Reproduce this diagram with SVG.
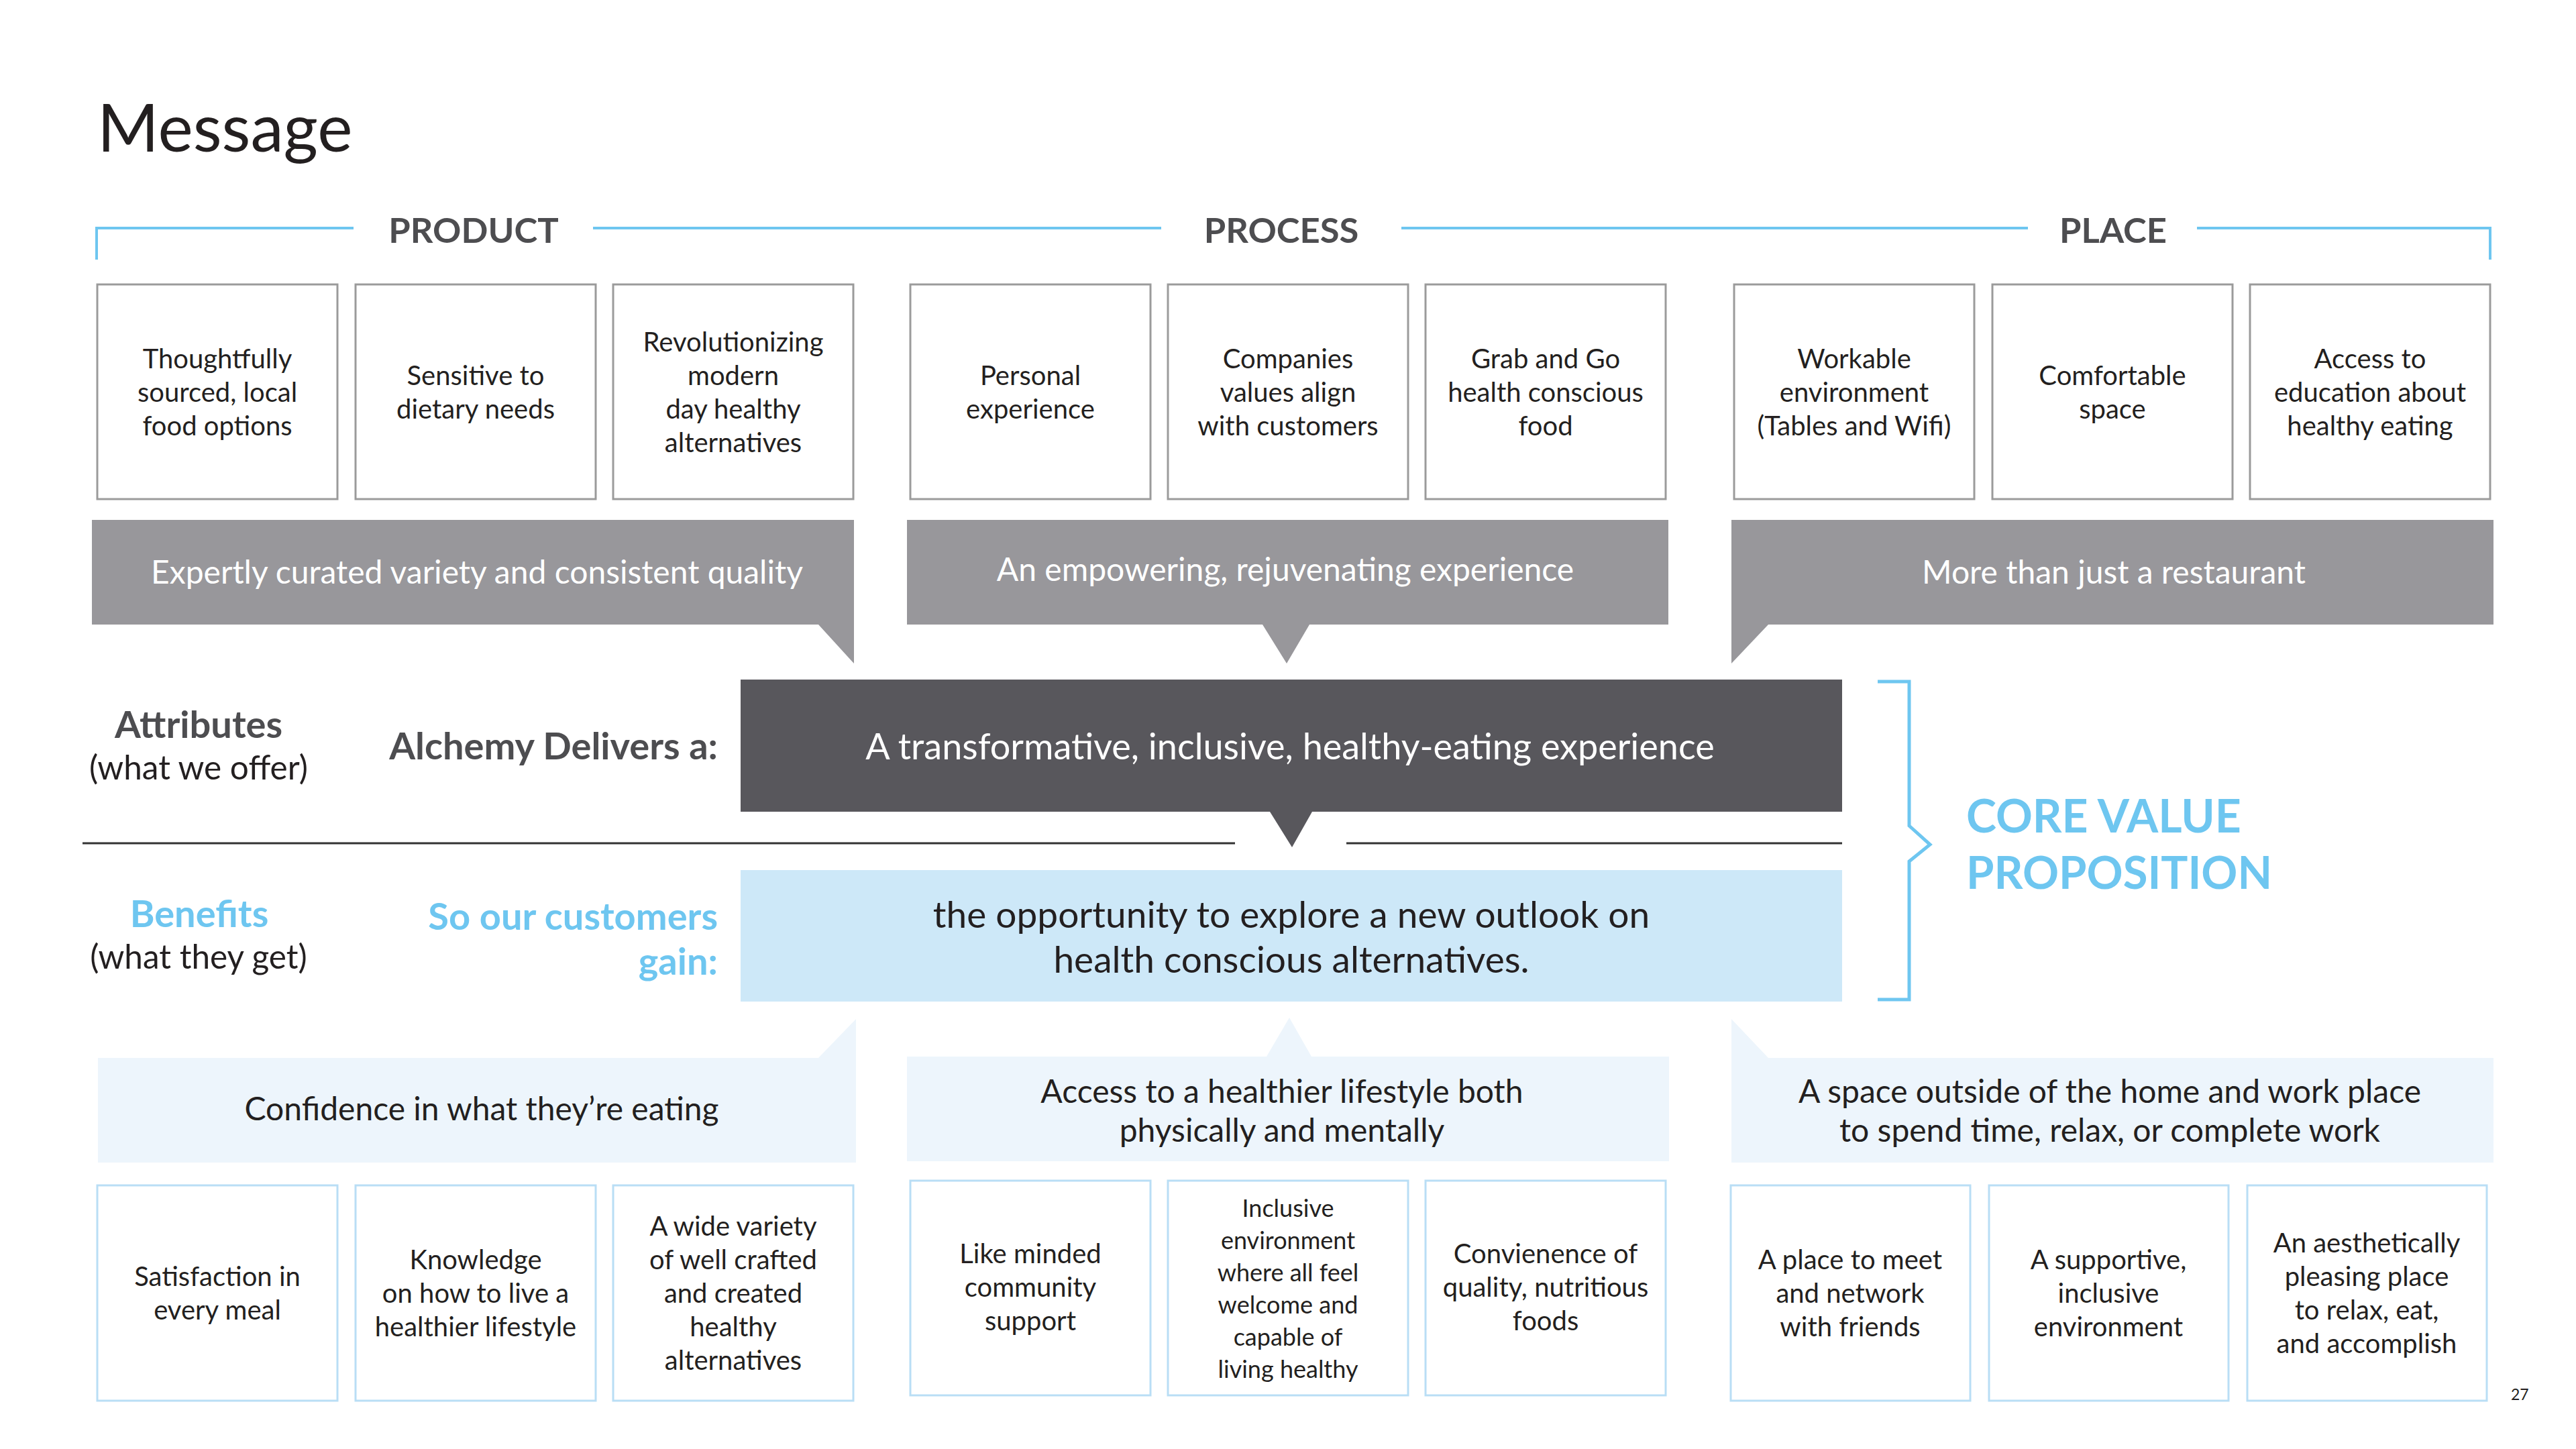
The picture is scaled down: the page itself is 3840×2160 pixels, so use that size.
<svg xmlns="http://www.w3.org/2000/svg" width="3840" height="2160" viewBox="0 0 3840 2160">
<style>
text{font-family:Lato,"Noto Sans","Liberation Sans",sans-serif;}
.t{font-size:40px;fill:#231f20;text-anchor:middle;}
.ti{font-size:36px;fill:#231f20;text-anchor:middle;}
.hd{font-size:52.5px;font-weight:700;fill:#4d4d50;text-anchor:middle;}
.bw{font-size:48px;fill:#ffffff;text-anchor:middle;}
.bk{font-size:48px;fill:#231f20;text-anchor:middle;}
.lab{font-size:56px;font-weight:700;fill:#4d4d50;}
.sub{font-size:49.5px;fill:#231f20;text-anchor:middle;}
.blue{fill:#6ec6f0;}
.box{fill:#ffffff;stroke:#9b9b9b;stroke-width:3;}
.lbox{fill:#ffffff;stroke:#b9def5;stroke-width:3;}
.gb{fill:#98979b;}
.lb{fill:#edf5fc;}
.bl{fill:none;stroke:#6ec6f0;stroke-width:4;}
</style>
<rect width="3840" height="2160" fill="#ffffff"/>
<text x="145" y="226" style="font-size:99px;fill:#231f20">Message</text>

<g id="headers">
<path class="bl" d="M144,387 V340 H527 M884,340 H1731 M2089,340 H3023 M3275,340 H3712 V387"/>
<text class="hd" x="706" y="362">PRODUCT</text>
<text class="hd" x="1910" y="362">PROCESS</text>
<text class="hd" x="3150" y="362">PLACE</text>
</g>

<g id="p1"><rect class="box" x="145" y="424" width="358" height="320"/><text class="t"><tspan x="324" y="549">Thoughtfully</tspan><tspan x="324" y="599">sourced, local</tspan><tspan x="324" y="649">food options</tspan></text></g>
<g id="p2"><rect class="box" x="530" y="424" width="358" height="320"/><text class="t"><tspan x="709" y="574">Sensitive to</tspan><tspan x="709" y="624">dietary needs</tspan></text></g>
<g id="p3"><rect class="box" x="914" y="424" width="358" height="320"/><text class="t"><tspan x="1093" y="524">Revolutionizing</tspan><tspan x="1093" y="574">modern</tspan><tspan x="1093" y="624">day healthy</tspan><tspan x="1093" y="674">alternatives</tspan></text></g>
<g id="r1"><rect class="box" x="1357" y="424" width="358" height="320"/><text class="t"><tspan x="1536" y="574">Personal</tspan><tspan x="1536" y="624">experience</tspan></text></g>
<g id="r2"><rect class="box" x="1741" y="424" width="358" height="320"/><text class="t"><tspan x="1920" y="549">Companies</tspan><tspan x="1920" y="599">values align</tspan><tspan x="1920" y="649">with customers</tspan></text></g>
<g id="r3"><rect class="box" x="2125" y="424" width="358" height="320"/><text class="t"><tspan x="2304" y="549">Grab and Go</tspan><tspan x="2304" y="599">health conscious</tspan><tspan x="2304" y="649">food</tspan></text></g>
<g id="l1"><rect class="box" x="2585" y="424" width="358" height="320"/><text class="t"><tspan x="2764" y="549">Workable</tspan><tspan x="2764" y="599">environment</tspan><tspan x="2764" y="649">(Tables and Wifi)</tspan></text></g>
<g id="l2"><rect class="box" x="2970" y="424" width="358" height="320"/><text class="t"><tspan x="3149" y="574">Comfortable</tspan><tspan x="3149" y="624">space</tspan></text></g>
<g id="l3"><rect class="box" x="3354" y="424" width="358" height="320"/><text class="t"><tspan x="3533" y="549">Access to</tspan><tspan x="3533" y="599">education about</tspan><tspan x="3533" y="649">healthy eating</tspan></text></g>

<g id="banner-product"><path class="gb" d="M137,775 H1273 V989 L1220,931 H137 Z"/><text class="bw" x="711" y="870">Expertly curated variety and consistent quality</text></g>
<g id="banner-process"><path class="gb" d="M1352,775 H2487 V931 H1952 L1918,989 L1882,931 H1352 Z"/><text class="bw" x="1916" y="866">An empowering, rejuvenating experience</text></g>
<g id="banner-place"><path class="gb" d="M2581,775 H3717 V931 H2636 L2581,989 Z"/><text class="bw" x="3151" y="870">More than just a restaurant</text></g>

<g id="labels">
<text class="lab" x="296" y="1100" text-anchor="middle">Attributes</text>
<text class="sub" x="296" y="1162">(what we offer)</text>
<text class="lab" x="1070" y="1132" text-anchor="end">Alchemy Delivers a:</text>
<text class="lab blue" x="297" y="1382" text-anchor="middle">Benefits</text>
<text class="sub" x="296" y="1444">(what they get)</text>
<text class="lab blue" x="1070" y="1386" text-anchor="end">So our customers</text>
<text class="lab blue" x="1070" y="1453" text-anchor="end">gain:</text>
</g>

<g id="attribute"><path fill="#58575c" d="M1104,1013 H2746 V1210 H1956 L1926,1263 L1893,1210 H1104 Z"/><text x="1923" y="1132" style="font-size:54px;fill:#ffffff;text-anchor:middle">A transformative, inclusive, healthy-eating experience</text></g>

<g id="connectors">
<path d="M123,1257 H1841 M2007,1257 H2746" stroke="#333333" stroke-width="3" fill="none"/>
</g>

<g id="benefit"><rect x="1104" y="1297" width="1642" height="196" fill="#cde8f8"/><text style="font-size:55px;fill:#231f20;text-anchor:middle"><tspan x="1925" y="1383">the opportunity to explore a new outlook on</tspan><tspan x="1925" y="1450">health conscious alternatives.</tspan></text></g>

<g id="core-value">
<path d="M2799,1016 H2846 V1231 L2877,1259 L2846,1284 V1490 H2799" fill="none" stroke="#6ec6f0" stroke-width="5"/>
<text x="2931" y="1241" style="font-size:68px;font-weight:700;fill:#6ec6f0">CORE VALUE</text>
<text x="2931" y="1325" style="font-size:67px;font-weight:700;fill:#6ec6f0">PROPOSITION</text>
</g>

<g id="benefit-product"><path class="lb" d="M146,1577 H1220 L1276,1519 V1733 H146 Z"/><text class="bk" x="718" y="1670">Confidence in what they’re eating</text></g>
<g id="benefit-process"><path class="lb" d="M1352,1575 H1888 L1922,1517 L1955,1575 H2488 V1731 H1352 Z"/><text class="bk"><tspan x="1911" y="1644">Access to a healthier lifestyle both</tspan><tspan x="1911" y="1702">physically and mentally</tspan></text></g>
<g id="benefit-place"><path class="lb" d="M2581,1519 L2636,1577 H3717 V1733 H2581 Z"/><text class="bk"><tspan x="3145" y="1644">A space outside of the home and work place</tspan><tspan x="3145" y="1702">to spend time, relax, or complete work</tspan></text></g>

<g id="bp1"><rect class="lbox" x="145" y="1767" width="358" height="321"/><text class="t"><tspan x="324" y="1917">Satisfaction in</tspan><tspan x="324" y="1967">every meal</tspan></text></g>
<g id="bp2"><rect class="lbox" x="530" y="1767" width="358" height="321"/><text class="t"><tspan x="709" y="1892">Knowledge</tspan><tspan x="709" y="1942">on how to live a</tspan><tspan x="709" y="1992">healthier lifestyle</tspan></text></g>
<g id="bp3"><rect class="lbox" x="914" y="1767" width="358" height="321"/><text class="t"><tspan x="1093" y="1842">A wide variety</tspan><tspan x="1093" y="1892">of well crafted</tspan><tspan x="1093" y="1942">and created</tspan><tspan x="1093" y="1992">healthy</tspan><tspan x="1093" y="2042">alternatives</tspan></text></g>
<g id="br1"><rect class="lbox" x="1357" y="1760" width="358" height="320"/><text class="t"><tspan x="1536" y="1883">Like minded</tspan><tspan x="1536" y="1933">community</tspan><tspan x="1536" y="1983">support</tspan></text></g>
<g id="br2"><rect class="lbox" x="1741" y="1760" width="358" height="320"/><text class="ti"><tspan x="1920" y="1814">Inclusive</tspan><tspan x="1920" y="1862">environment</tspan><tspan x="1920" y="1910">where all feel</tspan><tspan x="1920" y="1958">welcome and</tspan><tspan x="1920" y="2006">capable of</tspan><tspan x="1920" y="2054">living healthy</tspan></text></g>
<g id="br3"><rect class="lbox" x="2125" y="1760" width="358" height="320"/><text class="t"><tspan x="2304" y="1883">Convienence of</tspan><tspan x="2304" y="1933">quality, nutritious</tspan><tspan x="2304" y="1983">foods</tspan></text></g>
<g id="bl1"><rect class="lbox" x="2580" y="1767" width="357" height="321"/><text class="t"><tspan x="2758" y="1892">A place to meet</tspan><tspan x="2758" y="1942">and network</tspan><tspan x="2758" y="1992">with friends</tspan></text></g>
<g id="bl2"><rect class="lbox" x="2965" y="1767" width="357" height="321"/><text class="t"><tspan x="3143" y="1892">A supportive,</tspan><tspan x="3143" y="1942">inclusive</tspan><tspan x="3143" y="1992">environment</tspan></text></g>
<g id="bl3"><rect class="lbox" x="3350" y="1767" width="357" height="321"/><text class="t"><tspan x="3528" y="1867">An aesthetically</tspan><tspan x="3528" y="1917">pleasing place</tspan><tspan x="3528" y="1967">to relax, eat,</tspan><tspan x="3528" y="2017">and accomplish</tspan></text></g>

<text x="3743" y="2087" style="font-size:23px;fill:#231f20">27</text>
</svg>
